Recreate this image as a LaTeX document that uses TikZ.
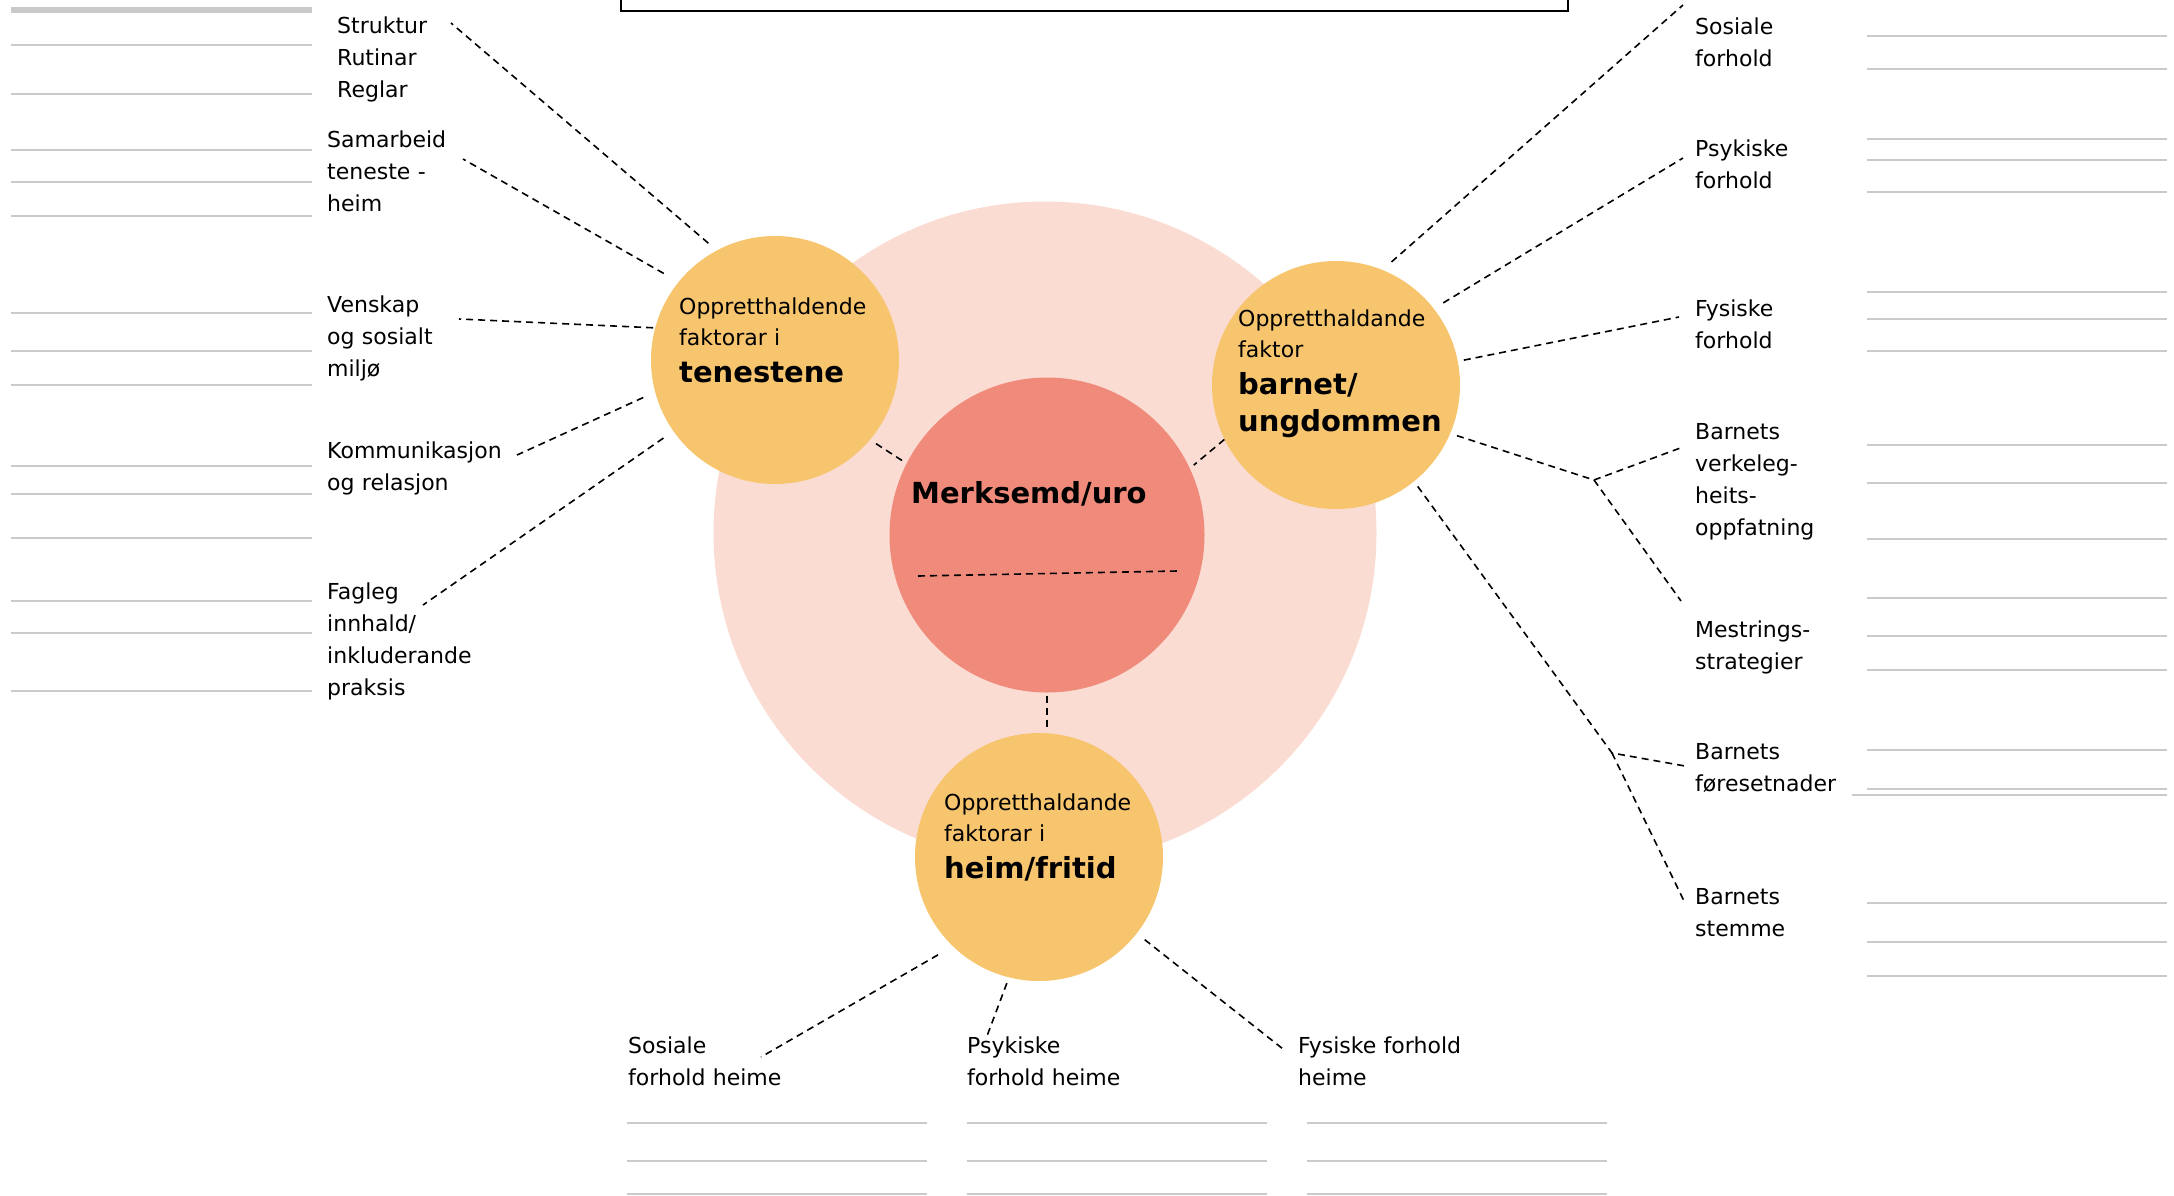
\documentclass[tikz,border=0pt]{standalone}
\usepackage{fontspec}
\setmainfont{DejaVu Sans}

\definecolor{palerose}{HTML}{FADCD3}
\definecolor{salmon}{HTML}{F08B7B}
\definecolor{mustard}{HTML}{F7C56E}
\definecolor{rulegrey}{HTML}{CACACA}

\tikzset{
	circ/.style={circle, inner sep=0pt, draw=none},
	lbl/.style={anchor=base west, align=left, text width=260pt, inner sep=0pt,
		font=\fontsize{22}{32}\selectfont},
	ctext/.style={anchor=base west, align=left, text width=260pt, inner sep=0pt,
		font=\fontsize{22}{31}\selectfont},
	bigtext/.style={anchor=base west, align=left, text width=260pt, inner sep=0pt,
		font=\fontsize{29}{37}\selectfont\bfseries},
	conn/.style={dash pattern=on 7pt off 5pt, line width=1.6pt},
	writeline/.style={rulegrey, line width=2.5pt}
}

\begin{document}
\begin{tikzpicture}[x=1pt, y=-1pt]

	\useasboundingbox (0,0) rectangle (2174,1195);

	\draw[line width=2pt] (621,-20) rectangle (1568,11);

	% lines to write on
	\draw[writeline, line width=6pt] (11,10) -- (312,10);

	\foreach \y in {45,94,150,182,216,313,351,385,466,494,538,601,633,691}
		\draw[writeline] (11,\y) -- (312,\y);

	\foreach \y in {36,69,139,160,192,292,319,351,445,483,539,598,636,670,750,789,903,942,976}
		\draw[writeline] (1867,\y) -- (2167,\y);

	\draw[writeline] (1852,795) -- (2167,795);

	\foreach \x in {627,967,1307}
		\foreach \y in {1123,1161,1194}
			\draw[writeline] (\x,\y) -- (\x+300,\y);

	% circles
	\node[circ, fill=palerose, minimum size=663pt] (ring) at (1045,533) {};

	\node[circ, fill=salmon, minimum size=315pt] (merk) at (1047,535) {};

	\node[circ, fill=mustard, minimum size=248pt] (ten) at (775,360) {};

	\node[circ, fill=mustard, minimum size=248pt] (barn) at (1336,385) {};

	\node[circ, fill=mustard, minimum size=248pt] (heim) at (1039,857) {};

	\node[bigtext] (merkT) at (911,503)%
	{Merksemd/uro};

	\coordinate (mL) at (918,576);
	\coordinate (mR) at (1177,571);
	\draw[conn] (mL) -- (mR);

	\node[ctext] (tenA) at (679,314)%
	{Oppretthaldende\\faktorar i};
	\node[bigtext] (tenB) at (679,382)%
	{tenestene};

	\node[ctext] (barnA) at (1238,326)%
	{Oppretthaldande\\faktor};
	\node[bigtext] (barnB) at (1238,394)%
	{barnet/\\ungdommen};

	\node[ctext] (heimA) at (944,810)%
	{Oppretthaldande\\faktorar i};
	\node[bigtext] (heimB) at (944,878)%
	{heim/fritid};

	% labels left
	\node[lbl] (struk) at (337,33)%
	{Struktur\\Rutinar\\Reglar};

	\node[lbl] (samarb) at (327,147)%
	{Samarbeid\\teneste -\\heim};

	\node[lbl] (vensk) at (327,312)%
	{Venskap\\og sosialt\\miljø};

	\node[lbl] (komm) at (327,458)%
	{Kommunikasjon\\og relasjon};

	\node[lbl] (fagl) at (327,599)%
	{Fagleg\\innhald/\\inkluderande\\praksis};

	% labels right
	\node[lbl] (sosF) at (1695,34)%
	{Sosiale\\forhold};

	\node[lbl] (psyF) at (1695,156)%
	{Psykiske\\forhold};

	\node[lbl] (fysF) at (1695,316)%
	{Fysiske\\forhold};

	\node[lbl] (verk) at (1695,439)%
	{Barnets\\verkeleg-\\heits-\\oppfatning};

	\node[lbl] (mestr) at (1695,637)%
	{Mestrings-\\strategier};

	\node[lbl] (fores) at (1695,759)%
	{Barnets\\føresetnader};

	\node[lbl] (stemme) at (1695,904)%
	{Barnets\\stemme};

	% labels bottom
	\node[lbl] (sosH) at (628,1053)%
	{Sosiale\\forhold heime};

	\node[lbl] (psyH) at (967,1053)%
	{Psykiske\\forhold heime};

	\node[lbl] (fysH) at (1298,1053)%
	{Fysiske forhold\\heime};

	% ends of the dashed lines
	\coordinate (kStruk) at (451,23);
	\coordinate (kSam) at (463,159);
	\coordinate (kVen) at (459,319);
	\coordinate (kKom) at (517,455);
	\coordinate (kFag) at (423,605);
	\coordinate (kSosF) at (1683,5);
	\coordinate (kPsyF) at (1683,158);
	\coordinate (kFysF) at (1679,317);
	\coordinate (jA) at (1594,480);
	\coordinate (kVerk) at (1683,447);
	\coordinate (kMestr) at (1681,601);
	\coordinate (jB) at (1612,753);
	\coordinate (kFores) at (1685,766);
	\coordinate (kStem) at (1685,903);
	\coordinate (kSosH) at (761,1057);
	\coordinate (kPsyH) at (987,1036);
	\coordinate (kFysH) at (1283,1049);

	\draw[conn, shorten <=11pt] (ten.118) -- (kStruk);
	\draw[conn, shorten <=17pt] (ten.141) -- (kSam);
	\draw[conn, shorten <=2pt] (ten.165) -- (kVen);
	\draw[conn, shorten <=13pt] (ten.195) -- (kKom);
	\draw[conn, shorten <=12pt] (ten.215) -- (kFag);
	\draw[conn, shorten <=7pt, shorten >=5pt] (ten.320) -- (merk.153);

	\draw[conn, shorten >=5pt] (barn.206) -- (merk.25);
	\draw[conn, shorten <=12pt] (barn.68) -- (kSosF);
	\draw[conn, shorten <=11pt] (barn.38) -- (kPsyF);
	\draw[conn, shorten <=6pt] (barn.11) -- (kFysF);
	\draw[conn, shorten <=7pt] (barn.337) -- (jA) -- (kVerk);
	\draw[conn] (jA) -- (kMestr);
	\draw[conn, shorten <=6pt] (barn.309) -- (jB) -- (kFores);
	\draw[conn] (jB) -- (kStem);

	\draw[conn, shorten <=3pt, shorten >=4pt] (merk.south) -- (merk.south |- heim.north);
	\draw[conn, shorten <=17pt] (heim.226) -- (kSosH);
	\draw[conn, shorten <=6pt] (heim.256) -- (kPsyH);
	\draw[conn, shorten <=10pt] (heim.322) -- (kFysH);

\end{tikzpicture}
\end{document}
